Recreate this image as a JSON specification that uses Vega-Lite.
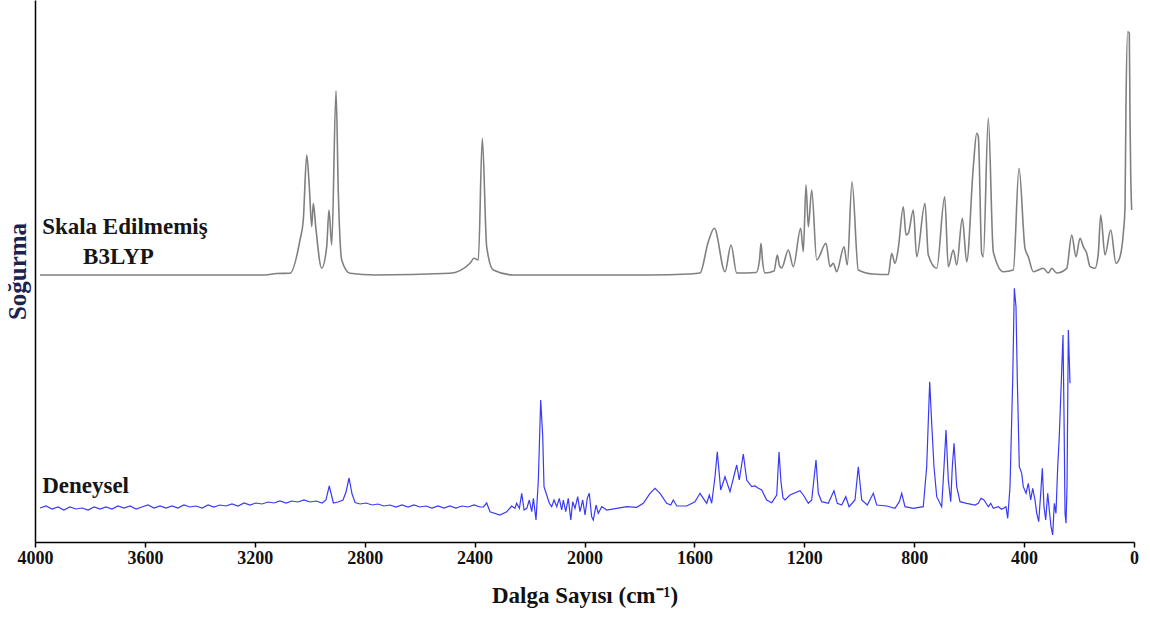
{
  "$schema": "https://vega.github.io/schema/vega-lite/v6.json",
  "width": 1099,
  "height": 542,
  "autosize": {"type": "none"},
  "padding": {"left": 35, "top": 0, "right": 16, "bottom": 79},
  "background": "white",
  "config": {"view": {"stroke": null}, "font": "Liberation Serif, Times New Roman, serif"},
  "datasets": {
    "calc": [
      {"w": 3982, "A": 267}, {"w": 3163, "A": 267}, {"w": 3120, "A": 268.5}, {"w": 3072, "A": 268.7},
      {"w": 3035.5, "A": 302}, {"w": 3023.5, "A": 322}, {"w": 3011, "A": 387}, {"w": 3001.6, "A": 355.3},
      {"w": 2992.9, "A": 315.3}, {"w": 2987, "A": 338.7}, {"w": 2978.3, "A": 315.3}, {"w": 2956.5, "A": 273.7},
      {"w": 2938.3, "A": 295.3}, {"w": 2930, "A": 332}, {"w": 2920, "A": 297}, {"w": 2904.4, "A": 451.3},
      {"w": 2896, "A": 349}, {"w": 2883.7, "A": 282}, {"w": 2853.5, "A": 268.7}, {"w": 2762.5, "A": 267},
      {"w": 2489.5, "A": 268.7}, {"w": 2416.7, "A": 278.7}, {"w": 2402, "A": 283.7}, {"w": 2386.5, "A": 282},
      {"w": 2372, "A": 403.7}, {"w": 2356, "A": 295.3}, {"w": 2332, "A": 272}, {"w": 2259, "A": 267},
      {"w": 1761.6, "A": 267}, {"w": 1620, "A": 268}, {"w": 1579.6, "A": 269}, {"w": 1549.4, "A": 300.3},
      {"w": 1527.5, "A": 313.7}, {"w": 1488.6, "A": 270.3}, {"w": 1466.8, "A": 297}, {"w": 1446, "A": 269},
      {"w": 1375, "A": 269.5}, {"w": 1363, "A": 282}, {"w": 1357.6, "A": 298.7}, {"w": 1352, "A": 281}, {"w": 1343, "A": 269},
      {"w": 1310, "A": 271}, {"w": 1298.3, "A": 287}, {"w": 1290, "A": 276}, {"w": 1282.2, "A": 274},
      {"w": 1258.2, "A": 292}, {"w": 1240, "A": 275.3}, {"w": 1213.1, "A": 313.7}, {"w": 1203.6, "A": 290.3},
      {"w": 1193.8, "A": 357}, {"w": 1185.4, "A": 315.3}, {"w": 1173, "A": 352}, {"w": 1154.8, "A": 282},
      {"w": 1121, "A": 298.7}, {"w": 1106.4, "A": 275.3}, {"w": 1094.4, "A": 278.7}, {"w": 1082.1, "A": 270.3},
      {"w": 1055.5, "A": 295.3}, {"w": 1043.5, "A": 277}, {"w": 1026.4, "A": 360.3}, {"w": 1003.4, "A": 272},
      {"w": 950, "A": 268}, {"w": 894.2, "A": 267.5}, {"w": 881.9, "A": 288.7}, {"w": 869.9, "A": 278.7}, {"w": 857.9, "A": 293.7},
      {"w": 839.7, "A": 335.3}, {"w": 829.8, "A": 307}, {"w": 821.4, "A": 308.7}, {"w": 803.2, "A": 332},
      {"w": 790.9, "A": 285.3}, {"w": 760.7, "A": 338.7}, {"w": 748.7, "A": 287}, {"w": 718.1, "A": 273.7},
      {"w": 689, "A": 345.3}, {"w": 675.9, "A": 275.3}, {"w": 657.7, "A": 292}, {"w": 645.3, "A": 277},
      {"w": 624.9, "A": 323.7}, {"w": 608.9, "A": 280.3}, {"w": 584.8, "A": 375.3}, {"w": 572.5, "A": 408.7},
      {"w": 566.6, "A": 405.3}, {"w": 554.3, "A": 288.7}, {"w": 548.5, "A": 285.3}, {"w": 530.3, "A": 423.7},
      {"w": 512.1, "A": 290.3}, {"w": 475.7, "A": 270.3}, {"w": 439.3, "A": 272}, {"w": 418.5, "A": 373.7},
      {"w": 396.7, "A": 293.7}, {"w": 384.7, "A": 285.3}, {"w": 366.5, "A": 270.3}, {"w": 330.1, "A": 273.7},
      {"w": 311.9, "A": 269}, {"w": 299.5, "A": 273.7}, {"w": 281.3, "A": 269}, {"w": 244.9, "A": 273.7},
      {"w": 226.7, "A": 307}, {"w": 211.1, "A": 285.3}, {"w": 196.5, "A": 303.7}, {"w": 184.5, "A": 295.3},
      {"w": 172.1, "A": 288.7}, {"w": 160.1, "A": 275.3}, {"w": 141.9, "A": 273.7}, {"w": 129.9, "A": 288.7},
      {"w": 121.2, "A": 327}, {"w": 105.5, "A": 287}, {"w": 84.8, "A": 312}, {"w": 65.5, "A": 278.7},
      {"w": 50.9, "A": 285.3}, {"w": 38.9, "A": 308.7}, {"w": 32.7, "A": 335.3}, {"w": 29.1, "A": 438.7},
      {"w": 22.9, "A": 510.3}, {"w": 17.1, "A": 508.7}, {"w": 14.5, "A": 422}, {"w": 12, "A": 368.7},
      {"w": 8.4, "A": 332}
    ],
    "exp": [
      {"w": 3982, "A": 34}, {"w": 3960, "A": 36}, {"w": 3938, "A": 33}, {"w": 3916, "A": 35}, {"w": 3895, "A": 32},
      {"w": 3873, "A": 35}, {"w": 3851, "A": 33}, {"w": 3829, "A": 34}, {"w": 3807, "A": 32}, {"w": 3785, "A": 35},
      {"w": 3763, "A": 33}, {"w": 3742, "A": 35}, {"w": 3720, "A": 33}, {"w": 3698, "A": 36}, {"w": 3676, "A": 34},
      {"w": 3654, "A": 36}, {"w": 3632, "A": 33}, {"w": 3611, "A": 35}, {"w": 3589, "A": 37}, {"w": 3567, "A": 34},
      {"w": 3545, "A": 36}, {"w": 3523, "A": 34}, {"w": 3501, "A": 36}, {"w": 3480, "A": 34}, {"w": 3458, "A": 37},
      {"w": 3436, "A": 35}, {"w": 3414, "A": 36}, {"w": 3392, "A": 34}, {"w": 3370, "A": 37}, {"w": 3349, "A": 35},
      {"w": 3327, "A": 37}, {"w": 3305, "A": 36}, {"w": 3283, "A": 38}, {"w": 3261, "A": 36}, {"w": 3239, "A": 39},
      {"w": 3218, "A": 37}, {"w": 3196, "A": 39}, {"w": 3174, "A": 38}, {"w": 3152, "A": 40}, {"w": 3130, "A": 39},
      {"w": 3108, "A": 41}, {"w": 3086, "A": 39}, {"w": 3065, "A": 41}, {"w": 3043, "A": 40}, {"w": 3021, "A": 42},
      {"w": 2999, "A": 40}, {"w": 2977, "A": 41}, {"w": 2955, "A": 39}, {"w": 2941, "A": 42}, {"w": 2929, "A": 56},
      {"w": 2914, "A": 39}, {"w": 2897, "A": 40}, {"w": 2879, "A": 42}, {"w": 2868, "A": 50}, {"w": 2857, "A": 64},
      {"w": 2846, "A": 48}, {"w": 2835, "A": 39.5}, {"w": 2817, "A": 38}, {"w": 2795, "A": 39}, {"w": 2773, "A": 37},
      {"w": 2752, "A": 38}, {"w": 2730, "A": 36}, {"w": 2708, "A": 37}, {"w": 2686, "A": 35}, {"w": 2664, "A": 37},
      {"w": 2642, "A": 35}, {"w": 2621, "A": 37}, {"w": 2599, "A": 35}, {"w": 2577, "A": 36}, {"w": 2555, "A": 34},
      {"w": 2533, "A": 36}, {"w": 2511, "A": 34}, {"w": 2490, "A": 36}, {"w": 2468, "A": 34}, {"w": 2446, "A": 36},
      {"w": 2424, "A": 35}, {"w": 2402, "A": 37}, {"w": 2380, "A": 35}, {"w": 2368, "A": 35}, {"w": 2356, "A": 39},
      {"w": 2344, "A": 30.3}, {"w": 2308, "A": 27}, {"w": 2283, "A": 30.3}, {"w": 2265, "A": 36}, {"w": 2253, "A": 33.7},
      {"w": 2247, "A": 38.7}, {"w": 2237, "A": 33.7}, {"w": 2228.5, "A": 48.7}, {"w": 2220, "A": 32}, {"w": 2210, "A": 33.7},
      {"w": 2201, "A": 42}, {"w": 2192, "A": 30.3}, {"w": 2186, "A": 43.7}, {"w": 2176.5, "A": 22}, {"w": 2168, "A": 62},
      {"w": 2159.4, "A": 142}, {"w": 2152, "A": 105.3}, {"w": 2147.4, "A": 55.3}, {"w": 2137.6, "A": 47}, {"w": 2128, "A": 38.7},
      {"w": 2119.4, "A": 35.3}, {"w": 2111, "A": 42}, {"w": 2101, "A": 35.3}, {"w": 2091.7, "A": 43.7}, {"w": 2083, "A": 32},
      {"w": 2077, "A": 42}, {"w": 2068.4, "A": 30.3}, {"w": 2059, "A": 43.7}, {"w": 2050, "A": 22}, {"w": 2043, "A": 40.3},
      {"w": 2034.6, "A": 33.7}, {"w": 2024.7, "A": 45.3}, {"w": 2016.4, "A": 30.3}, {"w": 2006.5, "A": 42}, {"w": 1998, "A": 27},
      {"w": 1990, "A": 43.7}, {"w": 1982.5, "A": 48.7}, {"w": 1974, "A": 25.3}, {"w": 1968, "A": 22}, {"w": 1958, "A": 37},
      {"w": 1950, "A": 28.7}, {"w": 1937, "A": 35.3}, {"w": 1919, "A": 32}, {"w": 1883, "A": 33.7}, {"w": 1846, "A": 35.3},
      {"w": 1810, "A": 34.7}, {"w": 1786, "A": 38.7}, {"w": 1761.6, "A": 48.7}, {"w": 1743.4, "A": 53.7}, {"w": 1725, "A": 48.7},
      {"w": 1701, "A": 38.7}, {"w": 1686, "A": 37}, {"w": 1677, "A": 42}, {"w": 1664, "A": 36}, {"w": 1628, "A": 36},
      {"w": 1598, "A": 40.3}, {"w": 1579.6, "A": 48.7}, {"w": 1567.6, "A": 43.7}, {"w": 1555.3, "A": 38.7}, {"w": 1545.8, "A": 47},
      {"w": 1537, "A": 38.7}, {"w": 1525, "A": 65.3}, {"w": 1516.7, "A": 90.3}, {"w": 1504.3, "A": 52}, {"w": 1488.6, "A": 65.3},
      {"w": 1470.4, "A": 50.3}, {"w": 1446, "A": 77}, {"w": 1436.6, "A": 62}, {"w": 1422, "A": 88}, {"w": 1409.6, "A": 62},
      {"w": 1391.4, "A": 55.3}, {"w": 1379.4, "A": 56}, {"w": 1367.4, "A": 53.7}, {"w": 1355, "A": 52}, {"w": 1336.8, "A": 42},
      {"w": 1318.6, "A": 39.3}, {"w": 1300.4, "A": 47}, {"w": 1292, "A": 90}, {"w": 1284.8, "A": 60}, {"w": 1277.5, "A": 44},
      {"w": 1270, "A": 42}, {"w": 1252, "A": 47}, {"w": 1215.6, "A": 51.3}, {"w": 1203.6, "A": 47}, {"w": 1185.4, "A": 38.7},
      {"w": 1173, "A": 42}, {"w": 1157.4, "A": 82}, {"w": 1149, "A": 48.7}, {"w": 1136.7, "A": 40.3}, {"w": 1112.7, "A": 38.7},
      {"w": 1092, "A": 51.3}, {"w": 1080, "A": 38.7}, {"w": 1064, "A": 37}, {"w": 1049, "A": 45.3}, {"w": 1037, "A": 35.3},
      {"w": 1015.5, "A": 42}, {"w": 1003.4, "A": 75.3}, {"w": 991, "A": 42}, {"w": 970.7, "A": 37}, {"w": 948.8, "A": 48.7},
      {"w": 936.5, "A": 37}, {"w": 900, "A": 36}, {"w": 870, "A": 33.7}, {"w": 854, "A": 40.3}, {"w": 845.4, "A": 48.7},
      {"w": 833.5, "A": 35.3}, {"w": 803, "A": 33.7}, {"w": 767, "A": 35.3}, {"w": 754.5, "A": 75.3}, {"w": 743.6, "A": 160.3},
      {"w": 736.3, "A": 118.7}, {"w": 728, "A": 75.3}, {"w": 718, "A": 45.3}, {"w": 700, "A": 35.3}, {"w": 691.5, "A": 75.3},
      {"w": 684.2, "A": 112}, {"w": 675.9, "A": 62}, {"w": 667, "A": 40.3}, {"w": 661.3, "A": 75.3}, {"w": 655, "A": 98.7},
      {"w": 645.3, "A": 55.3}, {"w": 633.3, "A": 40.3}, {"w": 609, "A": 38.7}, {"w": 578.7, "A": 37}, {"w": 566.7, "A": 38.7},
      {"w": 556.8, "A": 43.7}, {"w": 546, "A": 42}, {"w": 530.3, "A": 35.3}, {"w": 521.5, "A": 38.7}, {"w": 512, "A": 33.7},
      {"w": 494, "A": 35.3}, {"w": 481.5, "A": 32.7}, {"w": 466, "A": 35.3}, {"w": 459.6, "A": 23.7}, {"w": 451.3, "A": 55.3},
      {"w": 441.5, "A": 162}, {"w": 435.6, "A": 253.7}, {"w": 429.5, "A": 235.3}, {"w": 424.7, "A": 162}, {"w": 417.4, "A": 75.3},
      {"w": 408.7, "A": 68.7}, {"w": 403, "A": 55.3}, {"w": 393, "A": 48.7}, {"w": 384.7, "A": 58.7}, {"w": 376, "A": 42},
      {"w": 368.7, "A": 53.7}, {"w": 360.3, "A": 42}, {"w": 354, "A": 28.7}, {"w": 346.8, "A": 20.3}, {"w": 339.5, "A": 48.7},
      {"w": 333.7, "A": 73.7}, {"w": 327.6, "A": 35.3}, {"w": 321.4, "A": 22}, {"w": 314, "A": 48.7}, {"w": 308.3, "A": 32},
      {"w": 302, "A": 15.3}, {"w": 296, "A": 7}, {"w": 290, "A": 38.7}, {"w": 284, "A": 28.7}, {"w": 277.7, "A": 75.3},
      {"w": 272, "A": 105.3}, {"w": 265.7, "A": 152}, {"w": 258.4, "A": 207}, {"w": 254.8, "A": 128.7}, {"w": 251, "A": 28.7},
      {"w": 247.5, "A": 18.7}, {"w": 243.8, "A": 55.3}, {"w": 239, "A": 212}, {"w": 235.5, "A": 182}, {"w": 233, "A": 158.7}
    ],
    "labels": [
      {"w": 3974, "A": 308, "text": "Skala Edilmemiş"},
      {"w": 3825, "A": 278, "text": "B3LYP"},
      {"w": 3974, "A": 49, "text": "Deneysel"}
    ]
  },
  "encoding": {
    "x": {
      "field": "w", "type": "quantitative",
      "scale": {"domain": [0, 4000], "reverse": true, "nice": false, "zero": false},
      "axis": {
        "values": [4000, 3600, 3200, 2800, 2400, 2000, 1600, 1200, 800, 400, 0],
        "format": "d",
        "grid": false, "tickSize": 5, "tickColor": "#000", "tickWidth": 1.5,
        "domainColor": "#000", "domainWidth": 1.5,
        "labelFont": "Liberation Serif, Times New Roman, serif", "labelFontWeight": "bold", "labelFontSize": 18,
        "labelColor": "#111111", "labelPadding": 2, "labelFlush": false,
        "title": "Dalga Sayısı (cm⁻¹)", "titleFont": "Liberation Serif, Times New Roman, serif", "titleFontWeight": "bold",
        "titleFontSize": 23, "titleColor": "#111111", "titlePadding": 17
      }
    },
    "y": {
      "field": "A", "type": "quantitative",
      "scale": {"domain": [0, 542], "nice": false, "zero": true},
      "axis": {
        "labels": false, "ticks": false, "grid": false,
        "domainColor": "#000", "domainWidth": 1.5,
        "title": "Soğurma", "titleFont": "Liberation Serif, Times New Roman, serif", "titleFontWeight": "bold",
        "titleFontSize": 25, "titleColor": "#1c2350", "titlePadding": 5
      }
    }
  },
  "layer": [
    {
      "data": {"name": "calc"},
      "mark": {"type": "line", "color": "#808080", "strokeWidth": 1.6, "interpolate": "monotone"}
    },
    {
      "data": {"name": "exp"},
      "mark": {"type": "line", "color": "#3a3af5", "strokeWidth": 1.2}
    },
    {
      "data": {"name": "labels"},
      "mark": {"type": "text", "align": "left", "baseline": "alphabetic", "font": "Liberation Serif, Times New Roman, serif", "fontWeight": "bold", "fontSize": 23, "color": "#161616"},
      "encoding": {"text": {"field": "text", "type": "nominal"}}
    }
  ]
}
